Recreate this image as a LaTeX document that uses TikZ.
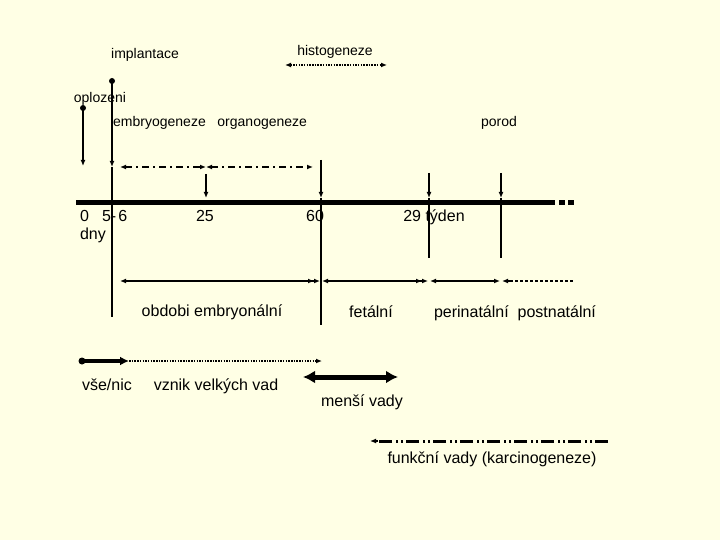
\documentclass[tikz,border=0pt]{standalone}
\usepackage{fontspec}
\setmainfont{Liberation Sans}
\usetikzlibrary{arrows.meta}
\definecolor{bg}{RGB}{255,255,229}
\begin{document}
\begin{tikzpicture}[x=1pt,y=-1pt,
  >={Latex[length=6pt,width=5pt]},
  lbl/.style={font=\fontsize{14}{16}\selectfont, inner sep=0pt, anchor=base},
  lblb/.style={font=\fontsize{16}{18}\selectfont, inner sep=0pt, anchor=base},
  thinln/.style={line width=1.2pt},
  midln/.style={line width=1.8pt},
  dashdot/.style={line width=1.8pt, dash pattern=on 7pt off 4pt on 2pt off 4pt},
  finedots/.style={line width=1.8pt, dash pattern=on 1.5pt off 1.2pt},
  squaredots/.style={line width=2.5pt, dash pattern=on 3pt off 2pt},
  bigtip/.style={{Latex[length=12pt,width=13pt]}-{Latex[length=12pt,width=13pt]}},
  funk/.style={line width=3pt, dash pattern=on 13pt off 3pt on 2pt off 3pt on 2pt off 4pt}
]
\fill[bg] (0,0) rectangle (720,540);
\useasboundingbox (0,0) rectangle (720,540);

% texts
\node[lbl] (impl) at (145,59) {implantace};
\node[lbl] (histo) at (335,56) {histogeneze};
\node[lbl] (oplo) at (100,103) {oplozeni};
\node[lbl, anchor=base west] (embr) at (113,127) {embryogeneze\ \ \ organogeneze};
\node[lbl] (porod) at (499,127) {porod};
\node[lblb, anchor=base west] (t0) at (80,222) {0\hspace{13pt}5-\hspace{2pt}6};
\node[lblb] (t25) at (205,222) {25};
\node[lblb] (t60) at (315,222) {60};
\node[lblb] (t29) at (434,222) {29 týden};
\node[lblb] (dny) at (93,240) {dny};
\node[lblb] (obd) at (212,316) {obdobi embryonální};
\node[lblb] (fet) at (371,317) {fetální};
\node[lblb] (peri) at (515,317) {perinatální\ \ postnatální};
\node[lblb] (vse) at (107,390) {vše/nic};
\node[lblb] (vzn) at (216,390) {vznik velkých vad};
\node[lblb] (mens) at (362,406) {menší vady};
\node[lblb] (fun) at (492,463) {funkční vady (karcinogeneze)};

% coordinates
\coordinate (h0) at (285,65); \coordinate (h1) at (387,65);
\coordinate (o0) at (83,108); \coordinate (o1) at (83,166);
\coordinate (i0) at (112,81); \coordinate (i1) at (112,167); \coordinate (i2) at (112,317);
\coordinate (e0) at (120,167); \coordinate (e1) at (206,167); \coordinate (e2) at (313,167);
\coordinate (a25a) at (206,174); \coordinate (a25b) at (206,198);
\coordinate (s0) at (321,160); \coordinate (s1) at (321,198); \coordinate (s2) at (321,325);
\coordinate (w0) at (429,173); \coordinate (w1) at (429,198); \coordinate (w2) at (429,258);
\coordinate (p0) at (501,173); \coordinate (p1) at (501,198); \coordinate (p2) at (501,258);
\coordinate (L0) at (76,203); \coordinate (L1) at (555,203); \coordinate (L2) at (559,203); \coordinate (L3) at (574,203);
\coordinate (r0) at (120,281); \coordinate (r1) at (320,281);
\coordinate (r2) at (322,281); \coordinate (r3) at (428,281);
\coordinate (r4) at (430,281); \coordinate (r5) at (500,281);
\coordinate (r6) at (502,281); \coordinate (r7) at (574,281);
\coordinate (b0) at (82,361); \coordinate (b1) at (129,361); \coordinate (b2) at (322,361);
\coordinate (m0) at (303,377); \coordinate (m1) at (398,377);
\coordinate (f0) at (608,441); \coordinate (f1) at (370,441);

% top
\draw[finedots, <->] (h0) -- (h1);
\fill (o0) circle (3pt);
\draw[line width=2pt, ->] (o0) -- (o1);
\fill (i0) circle (3pt);
\draw[thinln, ->] (i0) -- (i1);
\draw[thinln] (i1) -- (i2);
\draw[dashdot, <->] (e0) -- (e1);
\draw[dashdot, <->] (e1) -- (e2);
\draw[line width=2pt, ->] (a25a) -- (a25b);
\draw[thinln, ->] (s0) -- (s1);
\draw[thinln] (s1) -- (s2);
\draw[thinln, ->] (w0) -- (w1);
\draw[thinln] (w1) -- (w2);
\draw[thinln, ->] (p0) -- (p1);
\draw[thinln] (p1) -- (p2);

% time axis
\draw[line width=5pt] (L0) -- (L1);
\draw[line width=5pt, dash pattern=on 6pt off 3pt] (L2) -- (L3);

% periods
\draw[midln, <->>] (r0) -- (r1);
\draw[midln, <->>] (r2) -- (r3);
\draw[midln, <->] (r4) -- (r5);
\draw[midln, <-] (r6) -- ++(8,0);
\draw[squaredots] ([xshift=8pt]r6) -- (r7);

% defects
\fill (b0) circle (3.5pt);
\draw[line width=4pt, -{Latex[length=9pt,width=9pt]}] (b0) -- (b1);
\draw[finedots, ->] (b1) -- (b2);
\draw[line width=5pt, bigtip] (m0) -- (m1);
\draw[funk] (f0) -- ([xshift=6pt]f1);
\draw[line width=2pt, ->] ([xshift=8pt]f1) -- (f1);
\end{tikzpicture}
\end{document}
